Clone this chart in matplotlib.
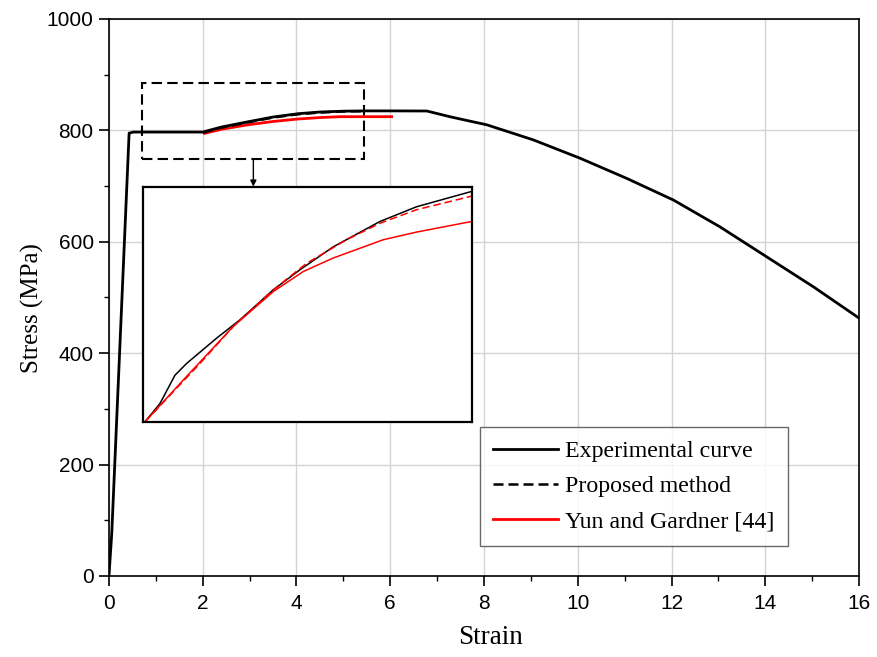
import numpy as np
import matplotlib.pyplot as plt
from matplotlib.patches import Rectangle

# stress-strain data (strain in %, stress in MPa)
exp_strain = [0, 0.06, 0.43, 0.52, 1.0, 1.6, 2.0, 2.4, 2.94, 3.5, 4.04, 4.5, 5.0, 5.5, 6.0, 6.78,
              7.3, 8.06, 9.05, 10.05, 11.04, 12.04, 13.03, 14.03, 15.03, 16.0]
exp_stress = [0, 77, 795, 797, 797, 797, 797, 806, 815, 824, 830, 833, 834.5, 835, 835, 834.8,
              824, 810, 783, 750, 714, 675, 627, 573, 519, 463]

prop_strain = [2.0, 2.4, 2.94, 3.5, 4.04, 4.5, 5.0, 5.45]
prop_stress = [796, 805, 814, 823, 829, 832, 834, 834.5]

yg_strain = [2.04, 2.4, 2.94, 3.5, 4.04, 4.5, 4.93, 5.5, 6.03]
yg_stress = [794.7, 802, 809.7, 816, 820.5, 823, 824.6, 824.6, 824.6]

# close-up curves shown in the inset
ins_exp_strain = [2.025, 2.184, 2.343, 2.467, 2.786, 3.033, 3.387, 3.670, 4.024, 4.520, 4.909, 5.493]
ins_exp_stress = [795.1, 798.2, 803.0, 805.0, 809.3, 812.4, 817.5, 820.9, 824.8, 829.1, 831.6, 834.2]
ins_prop_strain = [2.025, 2.609, 2.963, 3.387, 3.741, 4.165, 4.520, 4.909, 5.493]
ins_prop_stress = [795.1, 805.0, 811.3, 817.5, 822.0, 826.0, 828.8, 831.1, 833.4]
ins_yg_strain = [2.025, 2.432, 2.963, 3.387, 3.705, 4.024, 4.555, 4.909, 5.493]
ins_yg_stress = [795.1, 802.2, 811.3, 817.2, 820.6, 822.9, 826.0, 827.3, 829.1]

serif = ['Liberation Serif', 'DejaVu Serif']
sans = ['Liberation Sans', 'DejaVu Sans']

fig = plt.figure(figsize=(8.78, 6.57), dpi=100)
ax = fig.add_axes([0.1241, 0.1233, 0.8543, 0.8478])

ax.plot(exp_strain, exp_stress, color='black', lw=2.0, label='Experimental curve', zorder=3)
ax.plot(prop_strain, prop_stress, color='black', lw=1.8, ls=(0, (4, 2)), label='Proposed method', zorder=4)
ax.plot(yg_strain, yg_stress, color='red', lw=2.0, label='Yun and Gardner [44]', zorder=2)

ax.set_xlim(0, 16)
ax.set_ylim(0, 1000)
ax.set_xticks(np.arange(0, 17, 2))
ax.set_xticks(np.arange(1, 16, 2), minor=True)
ax.set_yticks(np.arange(0, 1001, 200))
ax.set_yticks(np.arange(100, 1000, 200), minor=True)
ax.grid(True, which='major', color='#d4d4d4', lw=1.0)
ax.set_axisbelow(True)
ax.tick_params(which='major', direction='out', length=7, width=1.2, labelsize=15)
ax.tick_params(which='minor', direction='out', length=3.5, width=1.0)
ax.tick_params(axis='x', which='major', pad=6)
ax.tick_params(axis='y', which='major', pad=4)
for lbl in ax.get_xticklabels() + ax.get_yticklabels():
    lbl.set_family(sans)
for sp in ax.spines.values():
    sp.set_linewidth(1.2)

ax.set_xlabel('Strain', fontsize=19.5, family=serif)
ax.set_ylabel('Stress (MPa)', fontsize=18, family=serif)
ax.xaxis.set_label_coords(0.509, -0.088)
ax.yaxis.set_label_coords(-0.087, 0.481)

# zoom window and pointer to the inset
ax.add_patch(Rectangle((0.7, 749), 4.75, 136, fill=False, ec='black', lw=1.5,
                       ls=(0, (5, 2.5)), zorder=5))
ax.annotate('', xy=(3.08, 699), xytext=(3.08, 749),
            arrowprops=dict(arrowstyle='-|>', color='black', lw=1.0,
                            mutation_scale=9, shrinkA=0, shrinkB=0))

leg = ax.legend(loc='lower right', bbox_to_anchor=(0.905, 0.054),
                prop={'family': serif, 'size': 17.2}, frameon=True, fancybox=False,
                edgecolor='#444444', handlelength=2.72, handletextpad=0.3,
                labelspacing=0.57, borderpad=0.55, borderaxespad=0)
leg.get_frame().set_linewidth(1.0)

# inset with the strain-hardening region
axi = fig.add_axes([0.1625, 0.3572, 0.3754, 0.3586])
axi.plot(ins_exp_strain, ins_exp_stress, color='black', lw=1.1)
axi.plot(ins_prop_strain, ins_prop_stress, color='red', lw=1.1, ls=(0, (5, 2.5)))
axi.plot(ins_yg_strain, ins_yg_stress, color='red', lw=1.1)
axi.set_xlim(2.0, 5.5)
axi.set_ylim(795, 835)
axi.set_xticks([])
axi.set_yticks([])
for sp in axi.spines.values():
    sp.set_linewidth(1.6)

fig.savefig('out.png', dpi=100)
